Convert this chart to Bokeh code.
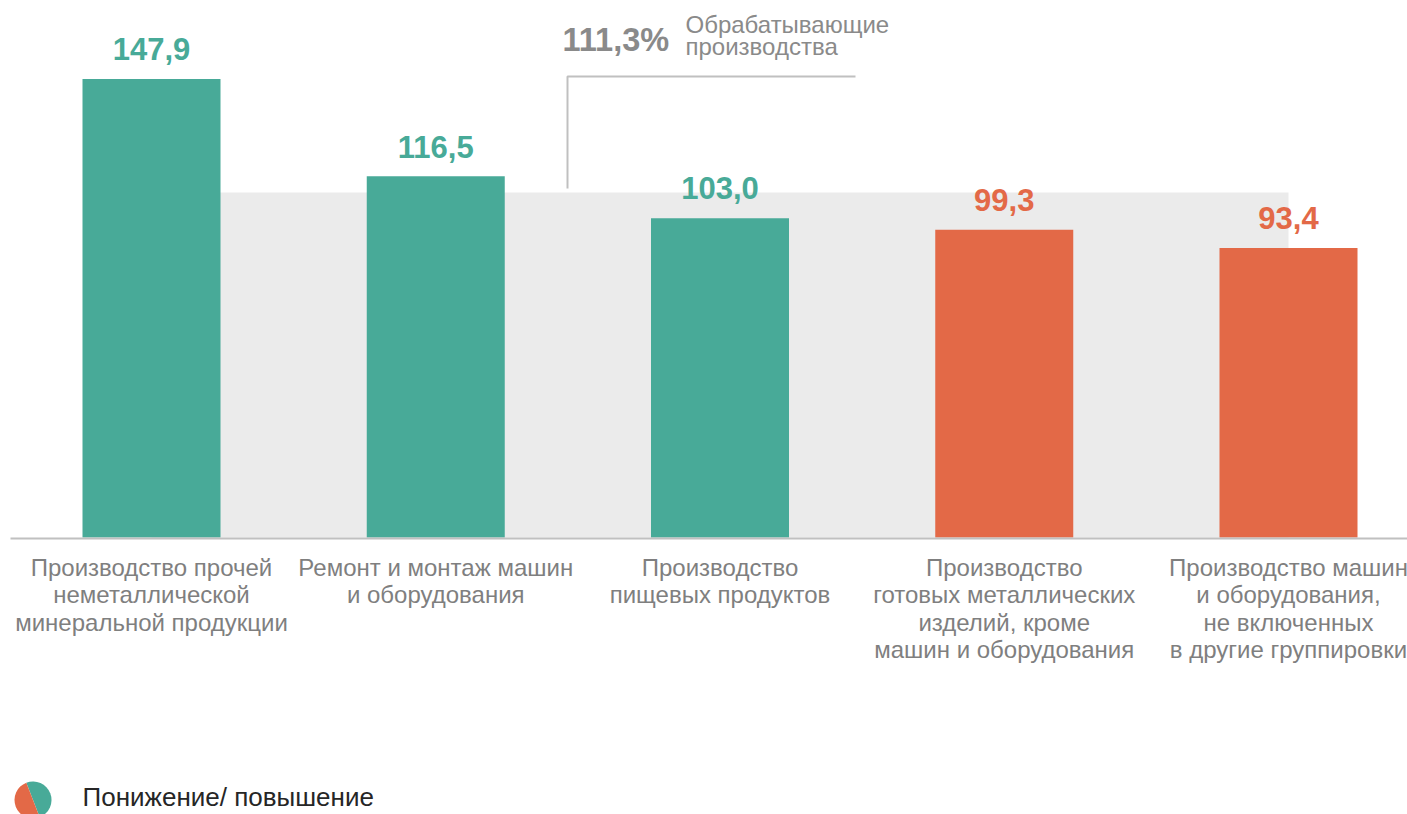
from bokeh.plotting import figure
from bokeh.models import Range1d, ColumnDataSource, Label
from bokeh.core.properties import value
from bokeh.embed import file_html
from bokeh.resources import INLINE

# ---- data ----
categories = [
    "Производство прочей\nнеметаллической\nминеральной продукции",
    "Ремонт и монтаж машин\nи оборудования",
    "Производство\nпищевых продуктов",
    "Производство\nготовых металлических\nизделий, кроме\nмашин и оборудования",
    "Производство машин\nи оборудования,\nне включенных\nв другие группировки",
]
values = [147.9, 116.5, 103.0, 99.3, 93.4]
value_labels = ["147,9", "116,5", "103,0", "99,3", "93,4"]
total_value = 111.3
total_label = "111,3%"
total_name = ["Обрабатывающие", "производства"]
legend_text = "Понижение/ повышение"

TEAL = "#48AA98"
ORANGE = "#E36947"
GREY_BAND = "#EBEBEB"
LINE_GREY = "#C0C0C0"
LABEL_GREY = "#7F7F7F"
ANN_GREY = "#8A8A8A"
FONT = "Liberation Sans"

colors = [TEAL if v >= 100 else ORANGE for v in values]

# ---- geometry (screen -> data helpers) ----
W, H = 1407, 814
STEP = 284.25      # px per category
X0PX = 151         # screen x of first bar centre
BASE = 537         # screen y of zero
PXU = 3.1          # px per unit
BL = 0.35          # baseline correction (em)


def dx(px):
    return (px - X0PX) / STEP


def dy(py):
    return (BASE - py) / PXU


p = figure(width=W, height=H, output_backend="svg", toolbar_location=None,
           x_range=Range1d(dx(0), dx(W)), y_range=Range1d(dy(H), dy(0)),
           min_border=0, x_axis_location=None, y_axis_location=None)
p.grid.visible = False
p.outline_line_color = None
p.background_fill_color = "white"
p.border_fill_color = "white"

xs = list(range(len(values)))

# grey band for total
p.quad(left=[0], right=[len(values) - 1], bottom=[0], top=[total_value],
       fill_color=GREY_BAND, line_color=None)

VFS = 31
src = ColumnDataSource(dict(x=xs, top=values, color=colors, lab=value_labels,
                            cat=categories,
                            ly=[v + (19 + BL * VFS) / PXU for v in values]))
p.vbar(x="x", top="top", bottom=0, width=138 / STEP, fill_color="color",
       line_color=None, source=src)

# baseline
p.segment(x0=[dx(10)], y0=[dy(538)], x1=[dx(1420)], y1=[dy(538)],
          line_color=LINE_GREY, line_width=2)

# value labels
p.text(x="x", y="ly", text="lab", source=src, text_color="color",
       text_font=value(FONT), text_font_style="bold", text_font_size=f"{VFS}px",
       text_align="center", text_baseline="alphabetic")

# category labels
p.text(x="x", y=dy(553), text="cat", source=src, text_color=LABEL_GREY,
       text_font=value(FONT), text_font_size="24px", text_align="center",
       text_baseline="top", text_line_height=1.02)

# total annotation bracket
p.line(x=[dx(567), dx(567), dx(855)], y=[dy(188), dy(76), dy(76)],
       line_color=LINE_GREY, line_width=2)


def label(x, y, text, fs, bold=False, color=ANN_GREY):
    p.add_layout(Label(x=dx(x), y=dy(y - BL * fs), text=text, text_color=color,
                       text_font=FONT, text_font_style="bold" if bold else "normal",
                       text_font_size=f"{fs}px", text_align="left",
                       text_baseline="alphabetic"))


label(562, 51, total_label, 32.5, bold=True)
label(685, 32, total_name[0], 24)
label(685, 54, total_name[1], 24)

# legend
cx, cy = dx(32.5), dy(799.5)
p.wedge(x=[cx], y=[cy], radius=18.5, radius_units="screen",
        start_angle=-1.2, end_angle=1.94, fill_color=TEAL, line_color=None)
p.wedge(x=[cx], y=[cy], radius=18.5, radius_units="screen",
        start_angle=1.94, end_angle=5.08, fill_color=ORANGE, line_color=None)
label(82, 806, legend_text, 26, color="#262626")

open("out.html", "w").write(file_html(p, INLINE))
